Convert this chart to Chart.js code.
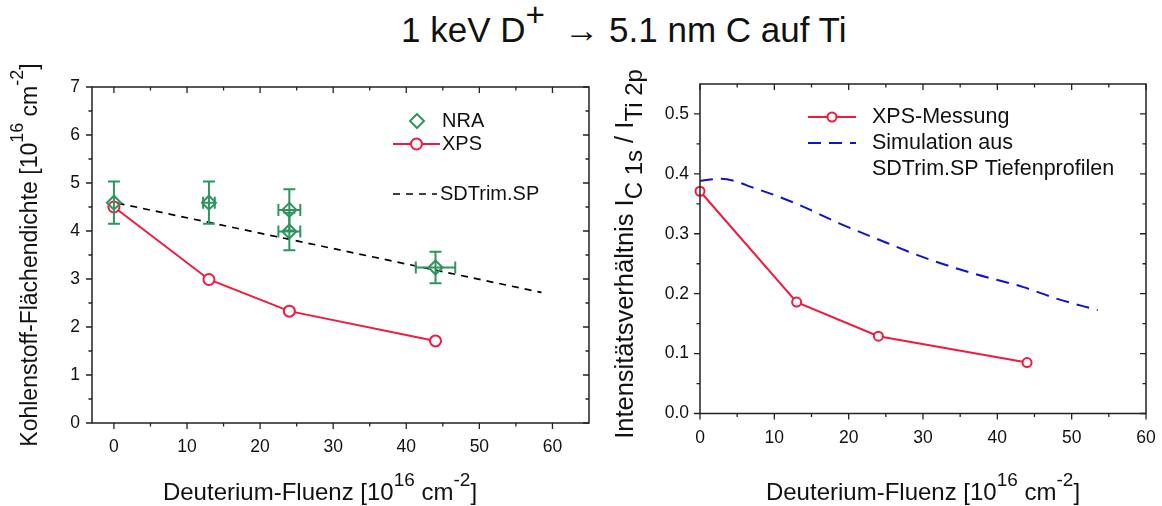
<!DOCTYPE html>
<html><head><meta charset="utf-8">
<script src="https://cdn.jsdelivr.net/npm/chart.js@4/dist/chart.umd.min.js"></script>
<style>
body{margin:0;width:1162px;height:506px;background:#fff;overflow:hidden;font-family:"Liberation Sans",Arial,sans-serif;}
#title{position:absolute;top:10px;left:401px;font-size:35px;line-height:40px;white-space:pre;color:#111;}
#title .sup{position:relative;top:-0.48em;font-size:0.95em;}
#c1{position:absolute;left:0;top:0;}
#c2{position:absolute;left:600px;top:0;}
</style></head><body>
<div id="title">1 keV D<span class="sup">+</span>  → 5.1 nm C auf Ti</div>
<canvas id="c1" width="600" height="506"></canvas>
<canvas id="c2" width="562" height="506"></canvas>
<script>
// ---------- data ----------
const leftXTicks = [0, 10, 20, 30, 40, 50, 60];
const leftYTicks = [0, 1, 2, 3, 4, 5, 6, 7];
const rightXTicks = [0, 10, 20, 30, 40, 50, 60];
const rightYTicks = [0, 0.1, 0.2, 0.3, 0.4, 0.5];

const nraX = [0, 13, 24, 24, 44];
const nraY = [4.59, 4.59, 4.44, 3.99, 3.24];
const nraYErr = [0.44, 0.44, 0.43, 0.39, 0.33];
const nraXErr = [0, 0.8, 1.5, 1.5, 2.7];

const xpsX = [0, 13, 24, 44];
const xpsDensity = [4.5, 2.99, 2.33, 1.71];
const xpsRatio = [0.371, 0.186, 0.129, 0.085];

const sdX = [0.5, 58.5];
const sdDensity = [4.58, 2.72];

const simX = [0, 2.7, 7.6, 13, 18.8, 23.7, 30, 36.7, 43.5, 47.9, 53.5];
const simRatio = [0.388, 0.392, 0.375, 0.350, 0.317, 0.292, 0.261, 0.234, 0.211, 0.192, 0.1725];

// ---------- styles ----------
const FAM = "'Liberation Sans', Arial, sans-serif";
const RED = '#f01a40';
const GREEN = '#31935f';
const BLUE = '#1212c8';
const INK = '#111';
Chart.defaults.font.family = FAM;

const pts = (xs, ys) => xs.map((x, i) => ({x: x, y: ys[i]}));

function drawRich(ctx, segs, cx, cy, rot) {
  ctx.save();
  ctx.translate(cx, cy);
  if (rot) ctx.rotate(rot);
  let w = 0;
  segs.forEach(s => { ctx.font = s.size + 'px ' + FAM; s.w = ctx.measureText(s.t).width; w += s.w; });
  let x = -w / 2;
  ctx.textBaseline = 'alphabetic'; ctx.textAlign = 'left'; ctx.fillStyle = INK;
  segs.forEach(s => { ctx.font = s.size + 'px ' + FAM; ctx.fillText(s.t, x, s.dy || 0); x += s.w; });
  ctx.restore();
}

const decor = {
  id: 'decor',
  afterDatasetsDraw(chart, args, o) {
    const ctx = chart.ctx, sx = chart.scales.x, sy = chart.scales.y;
    ctx.save();
    if (o.err) {
      ctx.strokeStyle = GREEN; ctx.lineWidth = 2;
      o.err.x.forEach((xv, i) => {
        const px = sx.getPixelForValue(xv), py = sy.getPixelForValue(o.err.y[i]);
        const ye = o.err.ye[i], xe = o.err.xe[i];
        const t = sy.getPixelForValue(o.err.y[i] + ye), b = sy.getPixelForValue(o.err.y[i] - ye);
        ctx.beginPath();
        ctx.moveTo(px, t); ctx.lineTo(px, b);
        ctx.moveTo(px - 6, t); ctx.lineTo(px + 6, t);
        ctx.moveTo(px - 6, b); ctx.lineTo(px + 6, b);
        if (xe > 0) {
          const l = sx.getPixelForValue(xv - xe), r = sx.getPixelForValue(xv + xe);
          ctx.moveTo(l, py); ctx.lineTo(r, py);
          ctx.moveTo(l, py - 6); ctx.lineTo(l, py + 6);
          ctx.moveTo(r, py - 6); ctx.lineTo(r, py + 6);
        }
        ctx.stroke();
      });
    }
    ctx.restore();
  },
  afterDraw(chart, args, o) {
    const ctx = chart.ctx, a = chart.chartArea, sx = chart.scales.x, sy = chart.scales.y;
    ctx.save();
    ctx.strokeStyle = '#222'; ctx.lineWidth = 1.5;
    ctx.strokeRect(a.left, a.top, a.right - a.left, a.bottom - a.top);
    ctx.lineWidth = 1.3;
    const mids = arr => arr.slice(1).map((v, i) => (v + arr[i]) / 2);
    ctx.beginPath();
    const xt = (v, len) => { const p = sx.getPixelForValue(v);
      ctx.moveTo(p, a.bottom); ctx.lineTo(p, a.bottom + len);
      ctx.moveTo(p, a.top); ctx.lineTo(p, a.top + len); };
    const yt = (v, len) => { const p = sy.getPixelForValue(v);
      ctx.moveTo(a.left, p); ctx.lineTo(a.left - len, p);
      ctx.moveTo(a.right, p); ctx.lineTo(a.right - len, p); };
    o.xTicks.forEach(v => xt(v, 6)); mids(o.xTicks).forEach(v => xt(v, 3.5));
    o.yTicks.forEach(v => yt(v, 6)); mids(o.yTicks).forEach(v => yt(v, 3.5));
    ctx.stroke();
    // legend
    ctx.textBaseline = 'middle'; ctx.textAlign = 'left'; ctx.fillStyle = INK;
    ctx.font = o.legendFont + 'px ' + FAM;
    o.legend.forEach(it => {
      if (it.line) {
        ctx.save();
        ctx.strokeStyle = it.color; ctx.lineWidth = it.lw;
        ctx.setLineDash(it.dash || []);
        ctx.beginPath(); ctx.moveTo(it.x0, it.y); ctx.lineTo(it.x1, it.y); ctx.stroke();
        ctx.restore();
      }
      if (it.marker === 'circle') {
        ctx.save(); ctx.fillStyle = '#fff'; ctx.strokeStyle = it.color; ctx.lineWidth = 2;
        ctx.beginPath(); ctx.arc((it.x0 + it.x1) / 2, it.y, it.r, 0, Math.PI * 2); ctx.fill(); ctx.stroke(); ctx.restore();
      } else if (it.marker === 'diamond') {
        const cx = (it.x0 + it.x1) / 2, r = it.r;
        ctx.save(); ctx.strokeStyle = it.color; ctx.lineWidth = 2;
        ctx.beginPath(); ctx.moveTo(cx, it.y - r); ctx.lineTo(cx + r, it.y); ctx.lineTo(cx, it.y + r); ctx.lineTo(cx - r, it.y); ctx.closePath(); ctx.stroke(); ctx.restore();
      }
      (it.texts || []).forEach(tx => { ctx.fillStyle = INK; ctx.fillText(tx.t, tx.x, tx.y); });
    });
    drawRich(ctx, o.xTitle.segs, o.xTitle.x, o.xTitle.y, 0);
    drawRich(ctx, o.yTitle.segs, o.yTitle.x, o.yTitle.y, -Math.PI / 2);
    ctx.restore();
  }
};

function axis(min, max, ticks, fmt, fit, pad, isX) {
  return {
    type: 'linear', min: min, max: max,
    afterBuildTicks: s => { s.ticks = ticks.map(v => ({value: v})); },
    afterFit: s => { if (isX) s.height = fit; else s.width = fit; },
    grid: {display: false, drawTicks: false}, border: {display: false},
    ticks: {padding: pad, font: {family: FAM, size: 17.5, lineHeight: isX ? 2.8 : 1.2}, color: INK,
            autoSkip: false, maxRotation: 0, callback: fmt}
  };
}

const titleSegs = (sz, sup) => [
  {t: 'Deuterium-Fluenz [10', size: sz}, {t: '16', size: sup, dy: -14},
  {t: ' cm', size: sz}, {t: '-2', size: sup, dy: -14}, {t: ']', size: sz}];

// ---------- left chart ----------
new Chart(document.getElementById('c1'), {
  type: 'scatter',
  data: {datasets: [
    {label: 'NRA', data: pts(nraX, nraY), showLine: false, pointStyle: 'rectRot', pointRadius: 7,
     borderColor: GREEN, backgroundColor: 'rgba(0,0,0,0)', pointBorderWidth: 2, clip: false},
    {label: 'XPS', data: pts(xpsX, xpsDensity), showLine: true, borderColor: RED, borderWidth: 2,
     pointStyle: 'circle', pointRadius: 5.5, pointBackgroundColor: '#fff', pointBorderColor: RED, pointBorderWidth: 2, clip: false},
    {label: 'SDTrim.SP', data: pts(sdX, sdDensity), showLine: true, borderColor: '#000', borderWidth: 1.7,
     borderDash: [7, 6], pointRadius: 0, clip: false}
  ]},
  options: {
    responsive: false, animation: false, events: [],
    layout: {padding: {left: 0, top: 87, right: 11, bottom: 43}},
    scales: {
      x: axis(-3, 65, leftXTicks, v => String(v), 40, 0, true),
      y: axis(0, 7, leftYTicks, v => String(v), 92, 12, false)
    },
    plugins: {
      legend: {display: false}, tooltip: {enabled: false},
      decor: {
        xTicks: leftXTicks, yTicks: leftYTicks, legendFont: 20,
        err: {x: nraX, y: nraY, ye: nraYErr, xe: nraXErr},
        legend: [
          {marker: 'diamond', color: GREEN, r: 7, x0: 393, x1: 441, y: 121, texts: [{t: 'NRA', x: 442, y: 121}]},
          {line: true, lw: 2, color: RED, marker: 'circle', r: 5.5, x0: 393, x1: 440, y: 144, texts: [{t: 'XPS', x: 442, y: 144}]},
          {line: true, lw: 1.7, color: '#000', dash: [7, 6], x0: 393, x1: 437, y: 194, texts: [{t: 'SDTrim.SP', x: 440, y: 194}]}
        ],
        xTitle: {x: 320, y: 500, segs: titleSegs(24, 19)},
        yTitle: {x: 37, y: 255, segs: [
          {t: 'Kohlenstoff-Flächendichte [10', size: 23}, {t: '16', size: 18, dy: -14},
          {t: ' cm', size: 23}, {t: '-2', size: 18, dy: -14}, {t: ']', size: 23}]}
      }
    }
  },
  plugins: [decor]
});

// ---------- right chart ----------
new Chart(document.getElementById('c2'), {
  type: 'scatter',
  data: {datasets: [
    {label: 'XPS-Messung', data: pts(xpsX, xpsRatio), showLine: true, borderColor: RED, borderWidth: 2,
     pointStyle: 'circle', pointRadius: 4.5, pointBackgroundColor: '#fff', pointBorderColor: RED, pointBorderWidth: 2, clip: false},
    {label: 'Simulation aus SDTrim.SP Tiefenprofilen', data: pts(simX, simRatio), showLine: true, borderColor: BLUE,
     borderWidth: 2, borderDash: [13, 8], pointRadius: 0, cubicInterpolationMode: 'monotone', clip: false}
  ]},
  options: {
    responsive: false, animation: false, events: [],
    layout: {padding: {left: 0, top: 84, right: 16, bottom: 52.5}},
    scales: {
      x: axis(0, 60, rightXTicks, v => String(v), 40, 0, true),
      y: axis(0, 0.55, rightYTicks, v => v.toFixed(1), 100, 11, false)
    },
    plugins: {
      legend: {display: false}, tooltip: {enabled: false},
      decor: {
        xTicks: rightXTicks, yTicks: rightYTicks, legendFont: 21.5,
        legend: [
          {line: true, lw: 2, color: RED, marker: 'circle', r: 4.5, x0: 208, x1: 256, y: 117, texts: [{t: 'XPS-Messung', x: 272, y: 117}]},
          {line: true, lw: 2, color: BLUE, dash: [13, 8], x0: 208, x1: 256, y: 143,
           texts: [{t: 'Simulation aus', x: 272, y: 143}, {t: 'SDTrim.SP Tiefenprofilen', x: 272, y: 169}]}
        ],
        xTitle: {x: 323, y: 500, segs: titleSegs(24, 19)},
        yTitle: {x: 33, y: 254, segs: [
          {t: 'Intensitätsverhältnis I', size: 25.5}, {t: 'C 1s', size: 24, dy: 9},
          {t: ' / I', size: 25.5}, {t: 'Ti 2p', size: 24, dy: 9}]}
      }
    }
  },
  plugins: [decor]
});
</script>
</body></html>
